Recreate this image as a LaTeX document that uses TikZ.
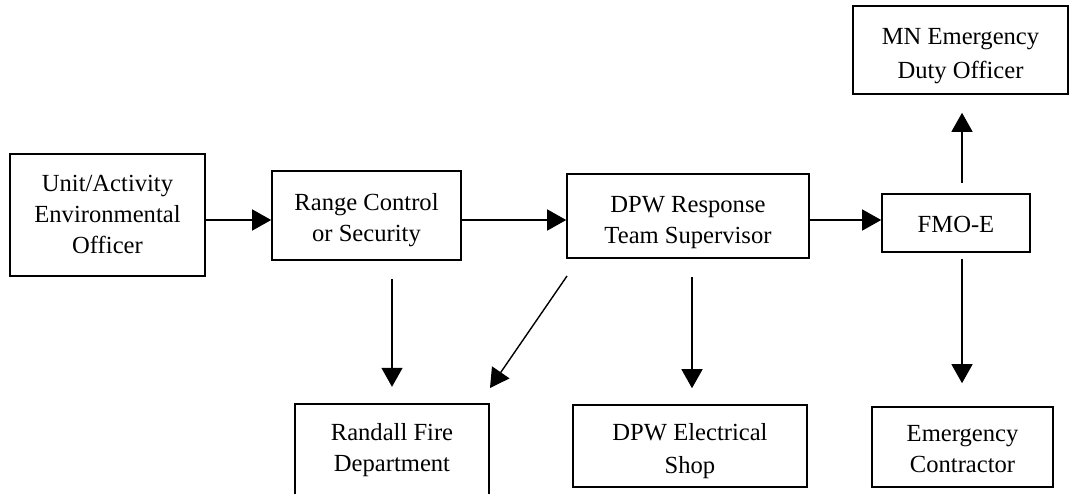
\documentclass[tikz,border=0pt]{standalone}
\usepackage{fontspec}
\setmainfont{Liberation Serif}
\usetikzlibrary{arrows.meta}
\newcommand{\tl}[2]{\raisebox{-#1}[\height][\depth]{\begin{tabular}{@{}c@{}}#2\end{tabular}}}
\begin{document}
\begin{tikzpicture}[x=1pt,y=-1pt,
  lbl/.style={inner sep=0pt,align=center,font=\fontsize{24.6}{31}\selectfont},
  box/.style={lbl,draw,line width=1.6pt},
  arr/.style={line width=1.4pt,-{Triangle[length=19pt,width=21pt]}}]
\useasboundingbox (0,0) rectangle (1070,493);
% nodes
\node[box,minimum width=195pt,minimum height=122pt] (unit) at (107.5,215) {\tl{1pt}{Unit/Activity\\Environmental\\Officer}};
\node[box,minimum width=189pt,minimum height=89pt] (range) at (366.5,215.5) {\tl{4.5pt}{Range Control\\or Security}};
\node[box,minimum width=242pt,minimum height=84pt] (dpw) at (688,216) {\tl{6pt}{DPW Response\\Team Supervisor}};
\node[box,minimum width=148pt,minimum height=58pt] (fmo) at (956,223) {\tl{3pt}{FMO-E}};
\node[box,minimum width=215pt,minimum height=88pt] (mn) at (960.5,50) {\tl{5.5pt}{MN Emergency\\[3pt]Duty Officer}};
\node[lbl,minimum width=194pt,minimum height=86pt] (randall) at (392,447) {\tl{3pt}{Randall Fire\\Department}};
\node[box,minimum width=234pt,minimum height=82pt] (elec) at (690,446) {\tl{4.5pt}{DPW Electrical\\[2pt]Shop}};
\node[box,minimum width=181pt,minimum height=80pt] (emerg) at (962.5,447) {\tl{3.5pt}{Emergency\\Contractor}};
% open border of the Randall box (cut at the bottom)
\coordinate (bot) at (0,500);
\draw[line width=1.6pt] (randall.west |- bot) -- (randall.north west) -- (randall.north east) -- (randall.east |- bot);
% helper coordinates
\coordinate (h) at (0,220);
\coordinate (xd) at (692,0);
\coordinate (xf) at (962,0);
\coordinate (d1) at (567,276);
\coordinate (d2) at (490,388);
% connectors
\draw[arr] (unit.east |- h) -- (range.west |- h);
\draw[arr] (range.east |- h) -- (dpw.west |- h);
\draw[arr] (dpw.east |- h) -- (fmo.west |- h);
\draw[arr,shorten <=10pt,shorten >=18pt] (fmo.north -| xf) -- (mn.south -| xf);
\draw[arr,shorten <=6pt,shorten >=23pt] (fmo.south -| xf) -- (emerg.north -| xf);
\draw[arr,shorten <=18pt,shorten >=17pt] (range.south -| randall.north) -- (randall.north);
\draw[arr,shorten <=18pt,shorten >=16pt] (dpw.south -| xd) -- (elec.north -| xd);
\draw[arr] (d1) -- (d2);
\end{tikzpicture}
\end{document}
